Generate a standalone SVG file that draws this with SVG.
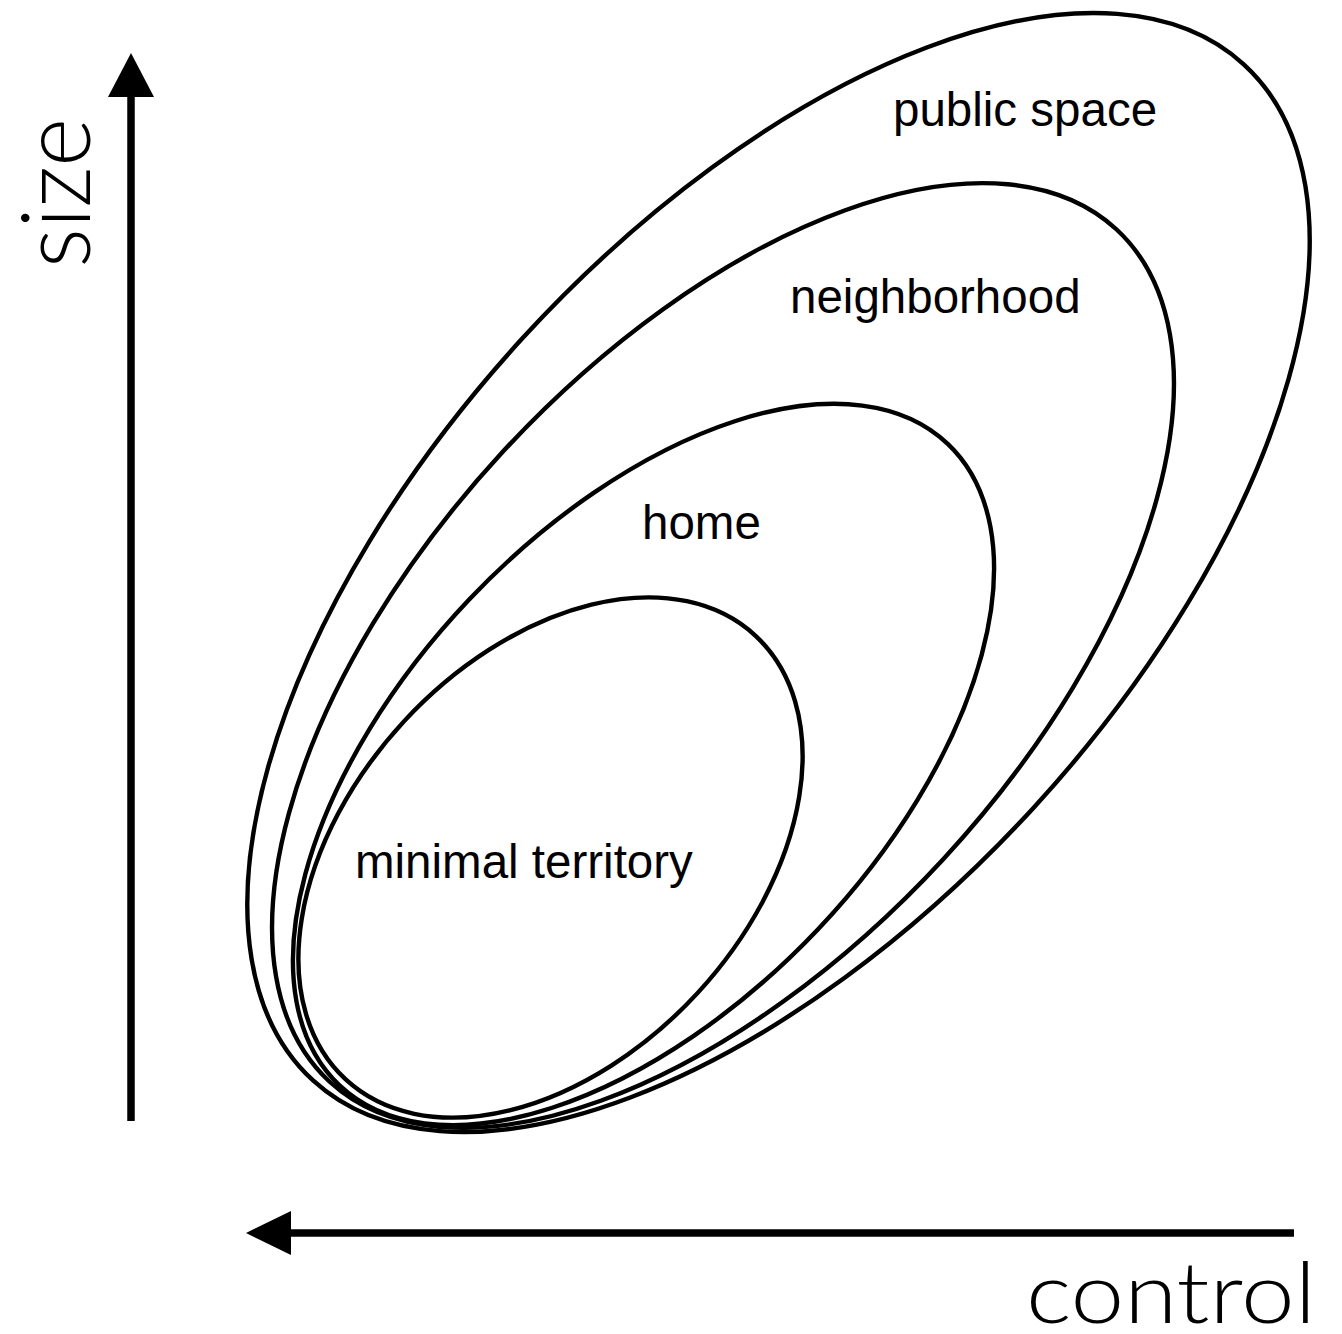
<svg xmlns="http://www.w3.org/2000/svg" width="1342" height="1334" viewBox="0 0 1342 1334">
<style>
.zone{fill:none;stroke:#000;stroke-width:4.4}
.lbl{font-family:"Liberation Sans",Arial,sans-serif;font-size:47.5px;fill:#000}
.axis{font-family:"Lato","DejaVu Sans",sans-serif;font-weight:300;fill:#000}
.ax{stroke:#000;stroke-width:7.5;fill:none}
</style>
<rect width="1342" height="1334" fill="#fff"/>
<g id="connectors">
<line class="ax" x1="131" y1="1121" x2="131" y2="95"/>
<polygon points="131,53 108,97 154,97" fill="#000"/>
<line class="ax" x1="1294" y1="1233" x2="289" y2="1233"/>
<polygon points="246,1233 291,1211 291,1255" fill="#000"/>
</g>
<g id="public-space">
<ellipse class="zone" cx="778.5" cy="572.5" rx="689" ry="347" transform="rotate(-47.5 778.5 572.5)"/>
<text class="lbl" x="893" y="126">public space</text>
</g>
<g id="neighborhood">
<ellipse class="zone" cx="723" cy="655.5" rx="580" ry="300" transform="rotate(-47.3 723 655.5)"/>
<text class="lbl" x="790" y="313">neighborhood</text>
</g>
<g id="home">
<ellipse class="zone" cx="643.5" cy="764.5" rx="442" ry="240" transform="rotate(-46.5 643.5 764.5)"/>
<text class="lbl" x="642" y="539">home</text>
</g>
<g id="minimal-territory">
<ellipse class="zone" cx="550.5" cy="857.5" rx="302" ry="200" transform="rotate(-47.3 550.5 857.5)"/>
<text class="lbl" x="355" y="878">minimal territory</text>
</g>
<g id="axis-labels">
<text class="axis" font-size="96" transform="translate(90,268) rotate(-90)" textLength="150" lengthAdjust="spacingAndGlyphs">size</text>
<text class="axis" font-size="84" x="1026" y="1323" textLength="290" lengthAdjust="spacingAndGlyphs">control</text>
</g>
</svg>
